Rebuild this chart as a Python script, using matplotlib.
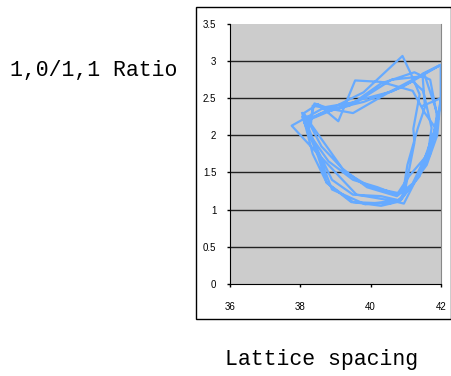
import numpy as np
import matplotlib.pyplot as plt
from matplotlib.patches import Rectangle

spacing = [
    38.05, 38.35, 38.75, 39.5, 40.3, 40.75, 41.3, 41.7, 41.9, 41.7, 41.25, 40.3, 39.4, 38.6,
    38.15, 38.9, 39.85, 40.85, 41.4, 41.78, 41.9, 41.55, 40.6, 39.6, 38.7,
    37.75, 38.2, 39.0, 39.6, 40.6, 40.95, 41.4, 41.88, 42.0, 42.0, 40.9, 39.8, 38.9, 38.4,
    38.2, 38.8, 39.5, 40.2, 40.75, 41.1, 41.55, 41.85, 41.55, 41.2, 40.3, 39.56, 39.08, 38.5,
    38.1, 38.6, 39.3, 40.0, 40.8, 41.0, 41.25, 41.22, 41.4, 41.15, 40.91, 39.8, 38.4,
    38.05, 38.5, 38.75, 39.45, 40.55, 40.9, 41.05, 41.35, 41.55, 41.48, 42.0, 40.6, 39.5, 38.35,
    38.3, 39.2, 39.9, 40.75, 41.2, 41.65, 41.74, 41.5, 41.2, 40.6, 39.7, 38.8,
    38.1, 38.9, 39.5, 40.3, 40.85, 41.6, 41.9, 42.0, 41.5,
]
ratio = [
    2.3, 1.75, 1.36, 1.1, 1.05, 1.1, 1.4, 1.75, 2.25, 2.75, 2.85, 2.7, 2.4, 2.3,
    2.2, 1.27, 1.07, 1.13, 1.45, 1.95, 2.3, 2.8, 2.75, 2.45, 2.38,
    2.13, 1.9, 1.5, 1.2, 1.12, 1.08, 1.5, 2.05, 2.5, 2.95, 2.65, 2.45, 2.35, 2.43,
    2.05, 1.65, 1.4, 1.3, 1.2, 1.45, 1.7, 2.1, 2.3, 2.6, 2.72, 2.74, 2.19, 2.42,
    2.3, 1.85, 1.5, 1.3, 1.22, 1.3, 1.9, 2.09, 2.55, 2.83, 3.07, 2.58, 2.25,
    2.25, 1.72, 1.36, 1.1, 1.08, 1.15, 1.6, 2.1, 2.38, 2.83, 2.95, 2.6, 2.3, 2.4,
    2.15, 1.55, 1.3, 1.18, 1.35, 1.8, 2.1, 2.6, 2.73, 2.59, 2.48, 2.32,
    2.18, 1.4, 1.2, 1.18, 1.12, 1.6, 2.0, 2.5, 2.4,
]

x_ticks = [36, 38, 40, 42]
y_ticks = [0, 0.5, 1, 1.5, 2, 2.5, 3, 3.5]

fig = plt.figure(figsize=(4.52, 3.76), dpi=100)

# outer chart frame
fig.patches.append(Rectangle((0.433, 0.152), 0.565, 0.83, transform=fig.transFigure,
                             fill=False, edgecolor='black', linewidth=1))

ax = fig.add_axes([0.5095, 0.2455, 0.4655, 0.6905])
ax.set_facecolor('#cccccc')

for y in y_ticks[1:-1]:
    ax.axhline(y, color='#222222', linewidth=1, zorder=1)

ax.plot(spacing, ratio, color='#66aaff', linewidth=1.6, zorder=2)

ax.set_xlim(36, 42)
ax.set_ylim(0, 3.5)
ax.set_xticks(x_ticks)
ax.set_yticks(y_ticks)
ax.set_xticklabels([str(v) for v in x_ticks])
ax.set_yticklabels(['0', '0.5', '1', '1.5', '2', '2.5', '3', '3.5'])
ax.tick_params(labelsize=7, length=2, width=1, colors='black')
ax.tick_params(axis='x', pad=11)
ax.tick_params(axis='y', pad=8)
for lab in ax.get_xticklabels() + ax.get_yticklabels():
    lab.set_family('Liberation Sans')

ax.spines['top'].set_visible(False)
ax.spines['right'].set_color('#888888')
ax.spines['left'].set_color('black')
ax.spines['bottom'].set_color('black')

fig.text(0.022, 0.8125, '1,0/1,1 Ratio', family='Liberation Mono', fontsize=15.5,
         ha='left', va='center')
fig.text(0.711, 0.045, 'Lattice spacing', family='Liberation Mono', fontsize=15.5,
         ha='center', va='center')

fig.savefig('out.png', dpi=100)
